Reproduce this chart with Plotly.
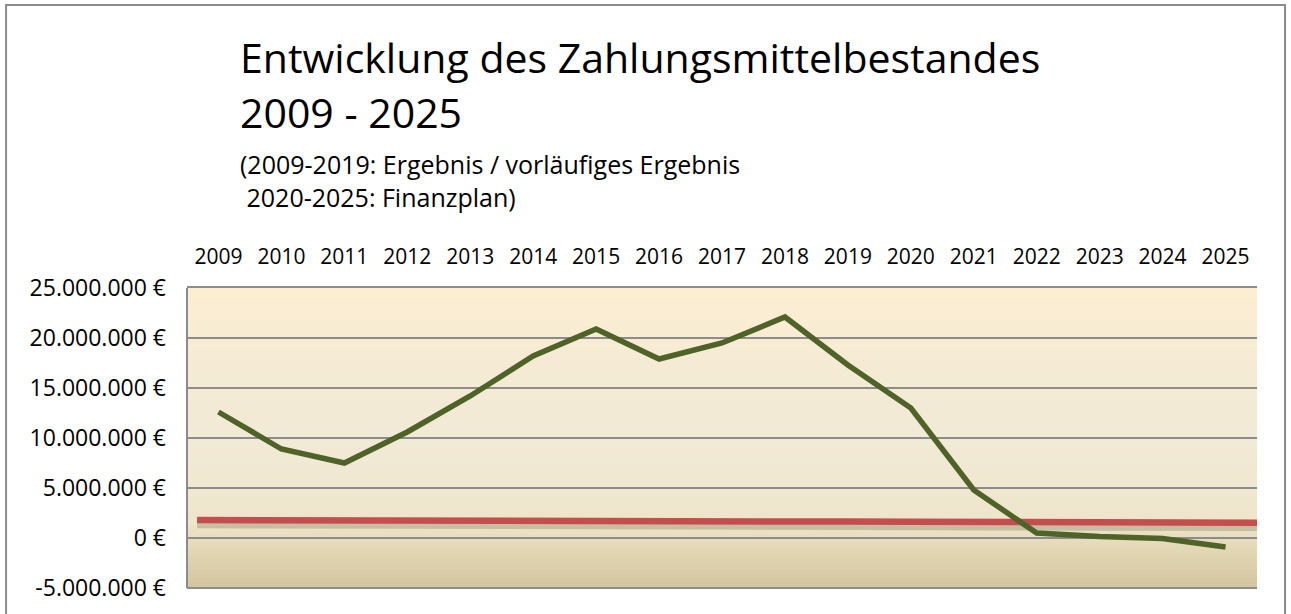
import plotly.graph_objects as go

# ---- data ----
years = ["2009", "2010", "2011", "2012", "2013", "2014", "2015", "2016", "2017",
         "2018", "2019", "2020", "2021", "2022", "2023", "2024", "2025"]
bestand = [12_600_000, 8_900_000, 7_500_000, 10_600_000, 14_200_000, 18_200_000,
           20_900_000, 17_900_000, 19_500_000, 22_100_000, 17_300_000, 13_000_000,
           4_800_000, 500_000, 150_000, -50_000, -900_000]
mindest = [1_800_000, 1_780_000, 1_760_000, 1_740_000, 1_720_000, 1_700_000,
           1_690_000, 1_680_000, 1_670_000, 1_660_000, 1_640_000, 1_620_000,
           1_600_000, 1_580_000, 1_560_000, 1_540_000, 1_520_000]
y_tickvals = [-5_000_000, 0, 5_000_000, 10_000_000, 15_000_000, 20_000_000, 25_000_000]
y_ticktext = ["-5.000.000 €", "0 €", "5.000.000 €", "10.000.000 €",
              "15.000.000 €", "20.000.000 €", "25.000.000 €"]

title_1 = "Entwicklung des Zahlungsmittelbestandes"
title_2 = "2009 - 2025"
sub_1 = "(2009-2019: Ergebnis / vorläufiges Ergebnis"
sub_2 = "\u00a02020-2025: Finanzplan)"

FONT = "Open Sans"
GREEN = "#4F6228"
RED = "#C44E4E"
GRID = "#8C8C8C"

xs = list(range(len(years)))

fig = go.Figure()

# shadow under the red line
fig.add_trace(go.Scatter(
    x=[xs[0] - 0.34] + xs + [xs[-1] + 0.55],
    y=[v - 380_000 for v in [mindest[0]] + mindest + [mindest[-1]]],
    mode="lines", line=dict(color="rgba(95,85,60,0.26)", width=9),
    hoverinfo="skip", showlegend=False, cliponaxis=False))

# red line (extends slightly past the first and last category)
fig.add_trace(go.Scatter(
    x=[xs[0] - 0.34] + xs + [xs[-1] + 0.55],
    y=[mindest[0]] + mindest + [mindest[-1]],
    mode="lines", line=dict(color=RED, width=6.5),
    hoverinfo="skip", showlegend=False, cliponaxis=False))

fig.add_trace(go.Scatter(
    x=xs, y=bestand, mode="lines",
    line=dict(color=GREEN, width=5.5, shape="linear"),
    showlegend=False, cliponaxis=False))

# gradient background as stacked bands (drawn below the gridlines)
stops = [(0.0, (0xD3, 0xC4, 0x9E)), (0.12, (0xE2, 0xD6, 0xB4)),
         (0.22, (0xEE, 0xE5, 0xCB)), (0.5, (0xF1, 0xEA, 0xD6)),
         (0.75, (0xF5, 0xEB, 0xD4)), (1.0, (0xFD, 0xEE, 0xD2))]


def col_at(t):
    for (t0, c0), (t1, c1) in zip(stops[:-1], stops[1:]):
        if t0 <= t <= t1:
            f = (t - t0) / (t1 - t0) if t1 > t0 else 0
            return "rgb(%d,%d,%d)" % tuple(round(a + (b - a) * f) for a, b in zip(c0, c1))
    return "rgb(%d,%d,%d)" % stops[-1][1]


shapes = []
N = 150
for i in range(N):
    t0, t1 = i / N, (i + 1) / N
    shapes.append(dict(type="rect", xref="x domain", yref="y domain",
                       x0=0, x1=1, y0=t0, y1=t1 + 0.002, layer="below",
                       line=dict(width=0), fillcolor=col_at((t0 + t1) / 2)))

# bottom and left frame of the plot area
shapes.append(dict(type="line", xref="x domain", yref="y domain", x0=0, x1=1, y0=0, y1=0,
                   line=dict(color=GRID, width=2), layer="above"))
shapes.append(dict(type="line", xref="x domain", yref="y domain", x0=0, x1=0, y0=0, y1=1,
                   line=dict(color=GRID, width=2), layer="above"))
# outer chart border
shapes.append(dict(type="rect", xref="paper", yref="paper",
                   x0=-0.1691, x1=1.0262, y0=-0.2, y1=1.9433,
                   line=dict(color="#8C8C8C", width=2), fillcolor="rgba(0,0,0,0)",
                   layer="above"))

ann = []


def px_to_paper_x(px):
    return (px - 187) / 1070


def px_to_paper_y(py):
    return (588 - py) / 300


ann.append(dict(text=title_1, x=px_to_paper_x(238), y=px_to_paper_y(57), xref="paper", yref="paper",
                xanchor="left", yanchor="middle", showarrow=False,
                font=dict(family=FONT, size=41, color="black")))
ann.append(dict(text=title_2, x=px_to_paper_x(238), y=px_to_paper_y(112), xref="paper", yref="paper",
                xanchor="left", yanchor="middle", showarrow=False,
                font=dict(family=FONT, size=41, color="black")))
ann.append(dict(text=sub_1, x=px_to_paper_x(238), y=px_to_paper_y(164), xref="paper", yref="paper",
                xanchor="left", yanchor="middle", showarrow=False,
                font=dict(family=FONT, size=25, color="black")))
ann.append(dict(text=sub_2, x=px_to_paper_x(238), y=px_to_paper_y(197), xref="paper", yref="paper",
                xanchor="left", yanchor="middle", showarrow=False,
                font=dict(family=FONT, size=25, color="black")))

fig.update_layout(
    width=1291, height=614,
    margin=dict(l=187, r=34, t=288, b=26),
    paper_bgcolor="white", plot_bgcolor="#F1EAD6",
    shapes=shapes, annotations=ann, showlegend=False,
    xaxis=dict(range=[-0.5, 16.5], tickvals=xs, ticktext=years, side="top",
               showgrid=False, zeroline=False, showline=True, linecolor=GRID, linewidth=2,
               ticks="", ticklabelstandoff=14,
               tickfont=dict(family=FONT, size=21, color="black"), fixedrange=True),
    yaxis=dict(range=[-5_000_000, 25_000_000], tickvals=y_tickvals, ticktext=y_ticktext,
               showgrid=True, gridcolor=GRID, gridwidth=1.6, zeroline=False,
               showline=False, ticks="", ticklabelstandoff=20,
               tickfont=dict(family=FONT, size=23, color="black"), fixedrange=True),
)

fig.write_html("out.html", config={"displayModeBar": False},
               post_script="document.body.style.margin='0';")
